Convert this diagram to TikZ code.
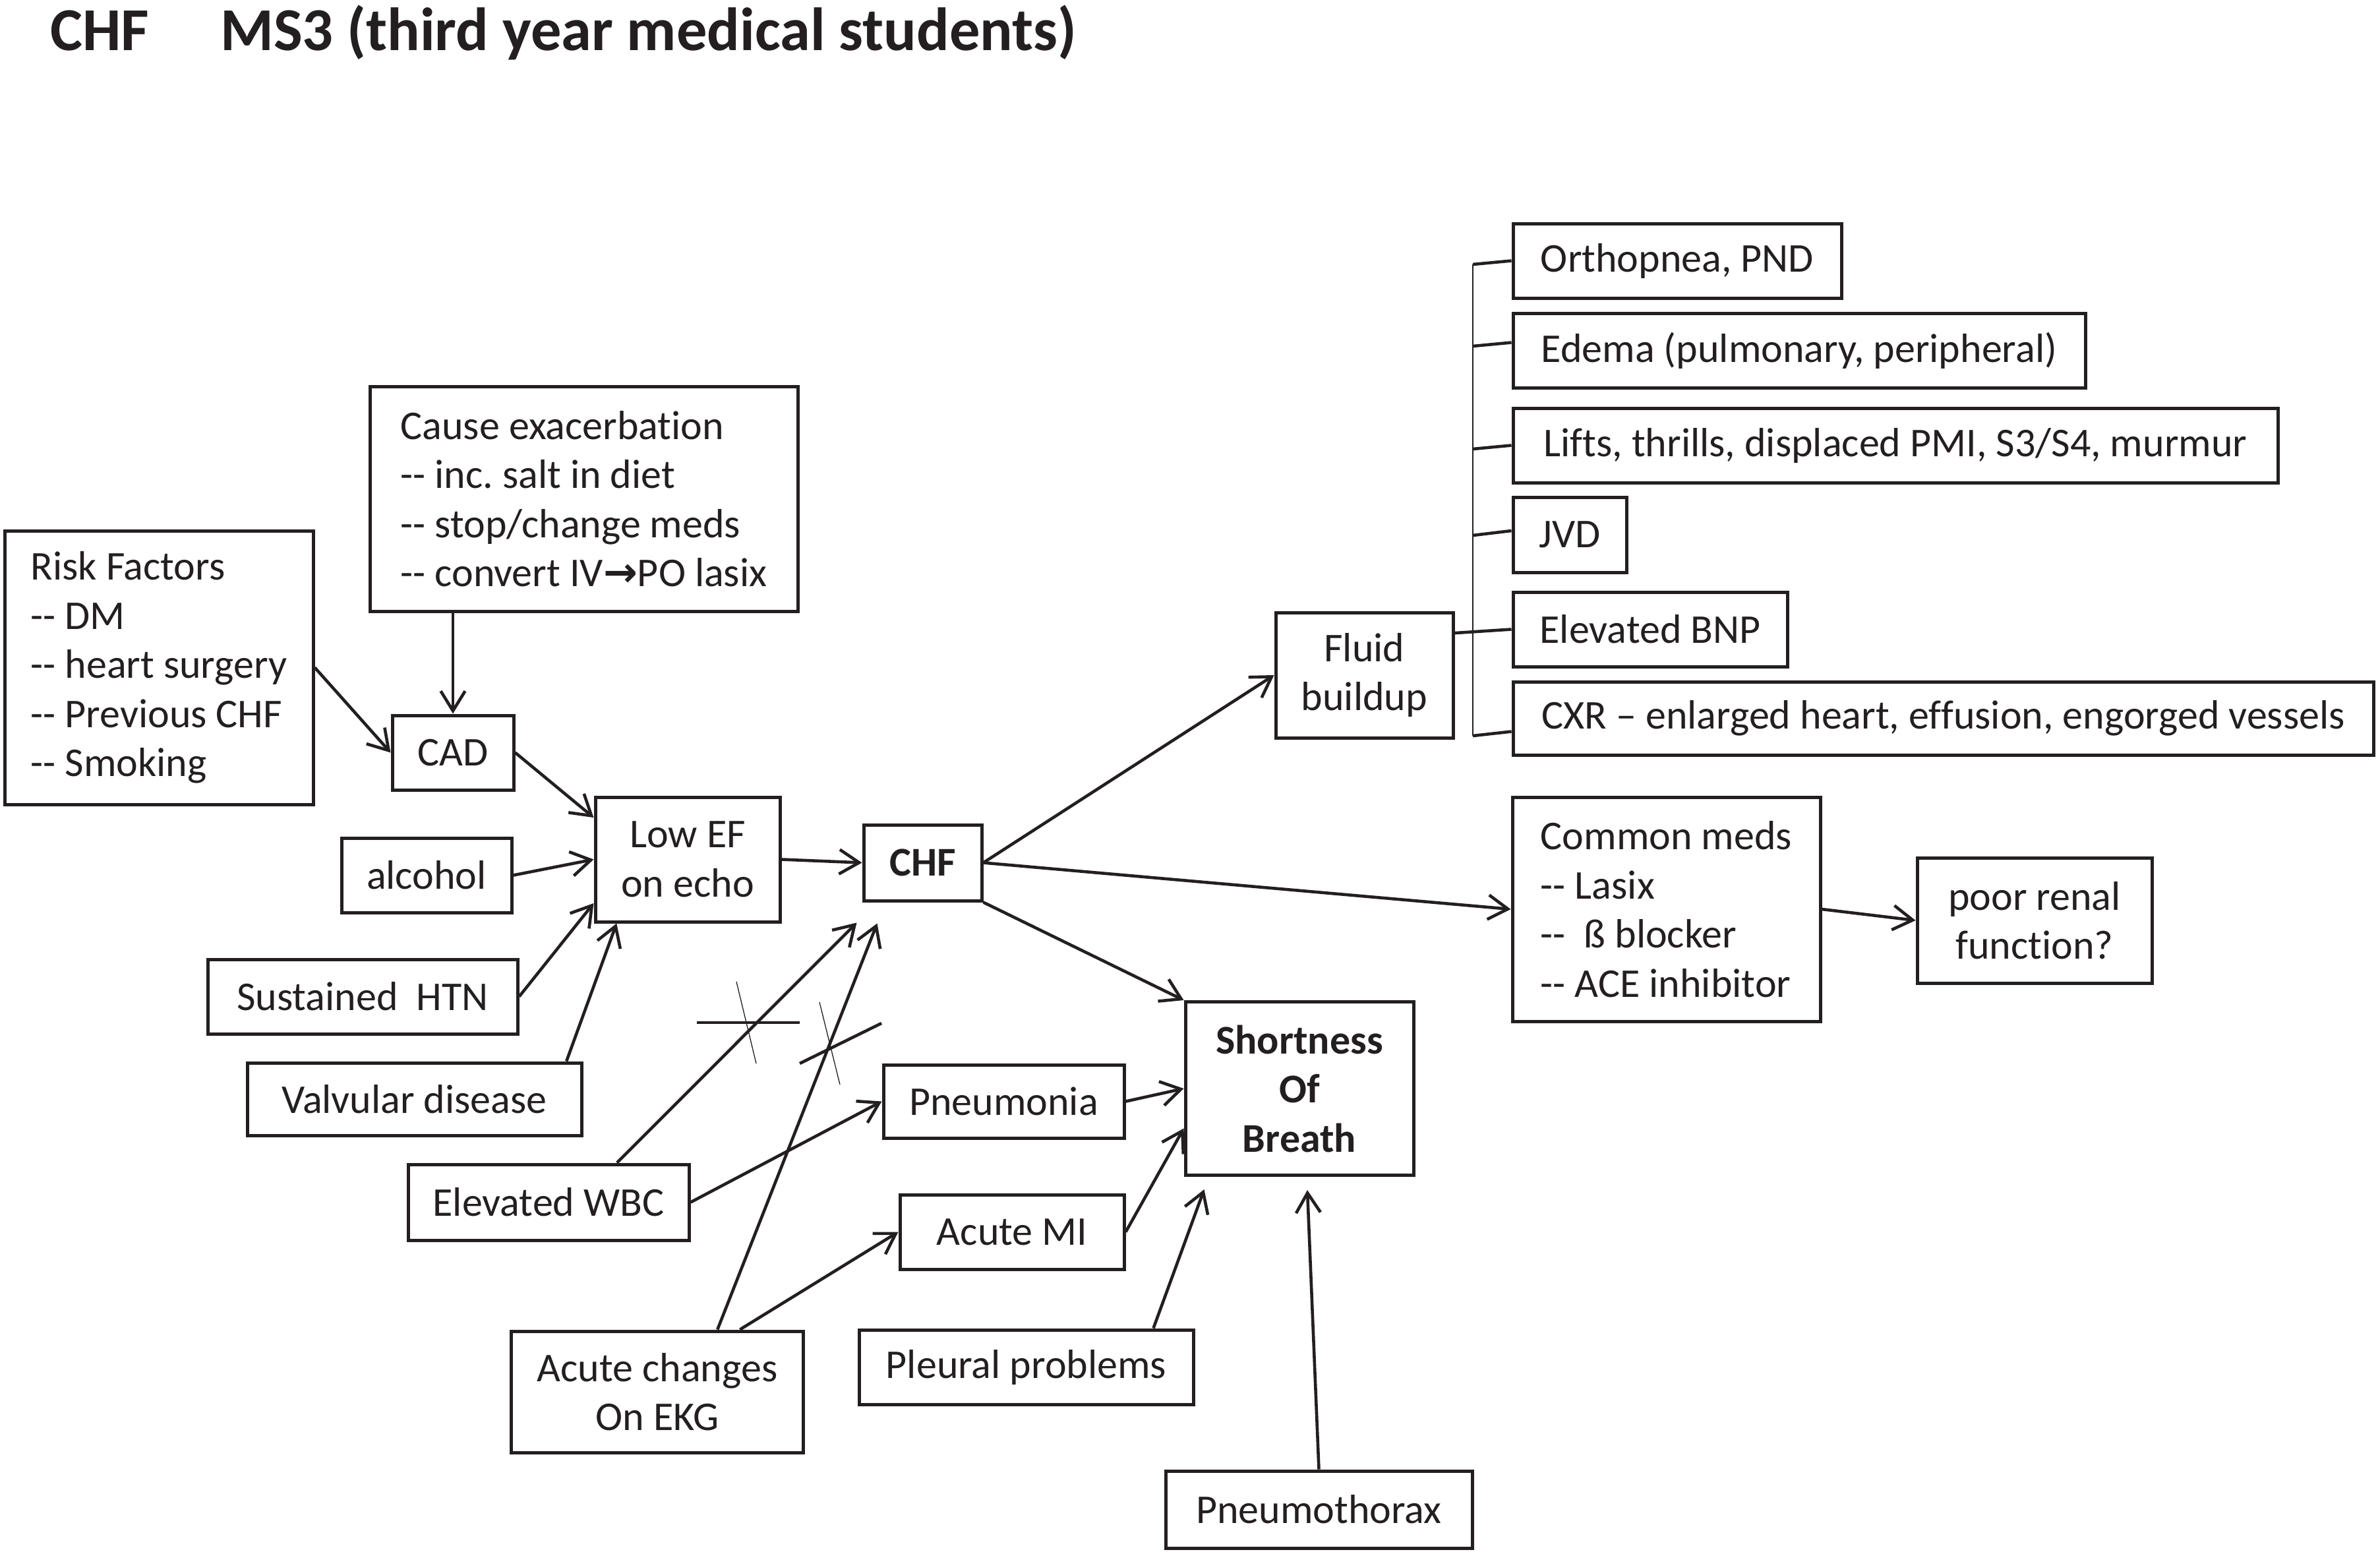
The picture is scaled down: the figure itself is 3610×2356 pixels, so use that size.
\documentclass[tikz,border=0pt]{standalone}
\usepackage{fontspec}
\setmainfont{Carlito}[Ligatures={TeXOff,NoCommon}]
\newfontfamily\djv{DejaVu Sans}
\usetikzlibrary{arrows.meta,calc}
\definecolor{ink}{RGB}{35,31,32}
\frenchspacing
\begin{document}
\begin{tikzpicture}[x=1pt,y=-1pt,
  box/.style={draw=ink, line width=5pt, inner sep=0pt, align=center, text=ink,
    font=\fontsize{62}{74.5}\selectfont},
  lbox/.style={box, align=left},
  bbox/.style={box, font=\fontsize{62}{74.5}\selectfont\bfseries},
  sz/.style 2 args={minimum width=#1pt, minimum height=#2pt},
  arr/.style={draw=ink, line width=4.6pt, -{Straight Barb[length=30pt,width=37pt]}},
  con/.style={draw=ink, line width=4.6pt},
  hair/.style={draw=ink, line width=1.3pt},
  ttl/.style={anchor=base west, inner sep=0pt, text=ink, font=\fontsize{92.5}{100}\selectfont\bfseries}]
\useasboundingbox (0,0) rectangle (3610,2356);

% title
\node[ttl] (t1) at (76,76) {CHF};
\node[ttl] (t2) at (334,76) {MS3 (third year medical students)};

% left part
\node[lbox, sz={468}{415}] (risk) at (241,1012.5) {Risk Factors\\-- DM\\-- heart surgery\\-- Previous CHF\\-- Smoking};
\node[lbox, sz={649}{341}] (cause) at (885.5,756.5) {Cause exacerbation\\-- inc. salt in diet\\-- stop/change meds\\-- convert IV{\djv\bfseries →}PO lasix};
\node[box, sz={184}{113}] (cad) at (687,1141.5) {CAD};
\node[box, sz={280}{189}] (lowef) at (1043,1303.5) {Low EF\\on echo};
\node[box, sz={258}{113}] (alcohol) at (647,1327.5) {alcohol};
\node[box, sz={470}{113}] (htn) at (550,1511.5) {Sustained \ HTN};
\node[box, sz={507}{110}] (valv) at (628.5,1667) {Valvular disease};
\node[bbox, sz={179}{115}] (chf) at (1399.5,1308.5) {CHF};
\node[bbox, sz={346}{263}] (sob) at (1971,1651) {Shortness\\Of\\Breath};
\node[box, sz={365}{111}] (pneu) at (1522.5,1670.5) {Pneumonia};
\node[box, sz={426}{115}] (wbc) at (832,1823.5) {Elevated WBC};
\node[box, sz={340}{113}] (mi) at (1535,1868.5) {Acute MI};
\node[box, sz={443}{184}] (ekg) at (997,2111) {Acute changes\\On EKG};
\node[box, sz={507}{113}] (pleural) at (1556.5,2073.5) {Pleural problems};
\node[box, sz={465}{117}] (pnx) at (2000.5,2289.5) {Pneumothorax};

% right part
\node[box, sz={269}{190}] (fluid) at (2069.5,1024) {Fluid\\buildup};
\node[box, sz={498}{113}] (ortho) at (2544,395.5) {Orthopnea, PND};
\node[box, sz={868}{113}] (edema) at (2729,531.5) {Edema (pulmonary, peripheral)};
\node[box, sz={1160}{113}] (lifts) at (2875,675.5) {Lifts, thrills, displaced PMI, S3/S4, murmur};
\node[box, sz={172}{114}] (jvd) at (2381,811) {JVD};
\node[box, sz={416}{113}] (bnp) at (2503,954.5) {Elevated BNP};
\node[box, sz={1305}{111}] (cxr) at (2947.5,1089.5) {CXR – enlarged heart, effusion, engorged vessels};
\node[lbox, sz={467}{340}] (cmeds) at (2527.5,1379) {Common meds\\-- Lasix\\-- \ ß blocker\\-- ACE inhibitor};
\node[box, sz={356}{190}] (renal) at (3086,1396) {poor renal\\function?};

% free arrow ends
\coordinate (tipwbc) at ($(chf.south west)+(-8,31)$);
\coordinate (tipekg) at ($(chf.south west)+(23,32)$);
\coordinate (tippl) at ($(sob.south west)+(31,19)$);
\coordinate (tippnx) at ($(sob.south)+(12,20)$);
% bracket points
\coordinate (b1) at (2234,401);
\coordinate (b2) at (2234,525);
\coordinate (b3) at (2234,681);
\coordinate (b4) at (2234,812);
\coordinate (b6) at (2234,1116);

% connectors
\draw[arr] (cad.north |- cause.south) -- (cad.north);
\draw[arr] (risk.east) -- (cad.west);
\draw[arr] (cad.east) -- (lowef.156);
\draw[arr] (alcohol.east) -- (lowef.west);
\draw[arr] (htn.east) -- (lowef.205);
\draw[arr] (valv.14) -- (lowef.222);
\draw[arr] (lowef.east) -- (chf.west);
\draw[arr] (chf.east) -- (fluid.west);
\draw[arr] (chf.east) -- (cmeds.west);
\draw[arr] (chf.south east) -- (sob.north west);
\draw[arr] (cmeds.east) -- (renal.west);
\draw[arr] (wbc.30) -- (tipwbc);
\draw[arr] (ekg.46) -- (tipekg);
\draw[arr] (wbc.east) -- (pneu.west);
\draw[arr] (ekg.37.5) -- (mi.west);
\draw[arr] (pneu.east) -- (sob.west);
\draw[arr] (mi.east) -- (sob.199);
\draw[arr] (pleural.17) -- (tippl);
\draw[arr] (pnx.north) -- (tippnx);

% crossing marks
\draw[con] (1057,1551) -- (1213,1551);
\draw[hair] (1117,1489) -- (1147,1613);
\draw[con] (1213,1613) -- (1337,1552);
\draw[hair] (1243,1520) -- (1274,1645);

% bracket of findings
\draw[hair] (b1) -- (b6);
\draw[con] (b1) -- (ortho.west);
\draw[con] (b2) -- ($(edema.west)+(0,-12)$);
\draw[con] (b3) -- (lifts.west);
\draw[con] (b4) -- ($(jvd.west)+(0,-6)$);
\draw[con] (fluid.25) -- (bnp.west);
\draw[con] (b6) -- ($(cxr.west)+(0,20)$);
\end{tikzpicture}
\end{document}
